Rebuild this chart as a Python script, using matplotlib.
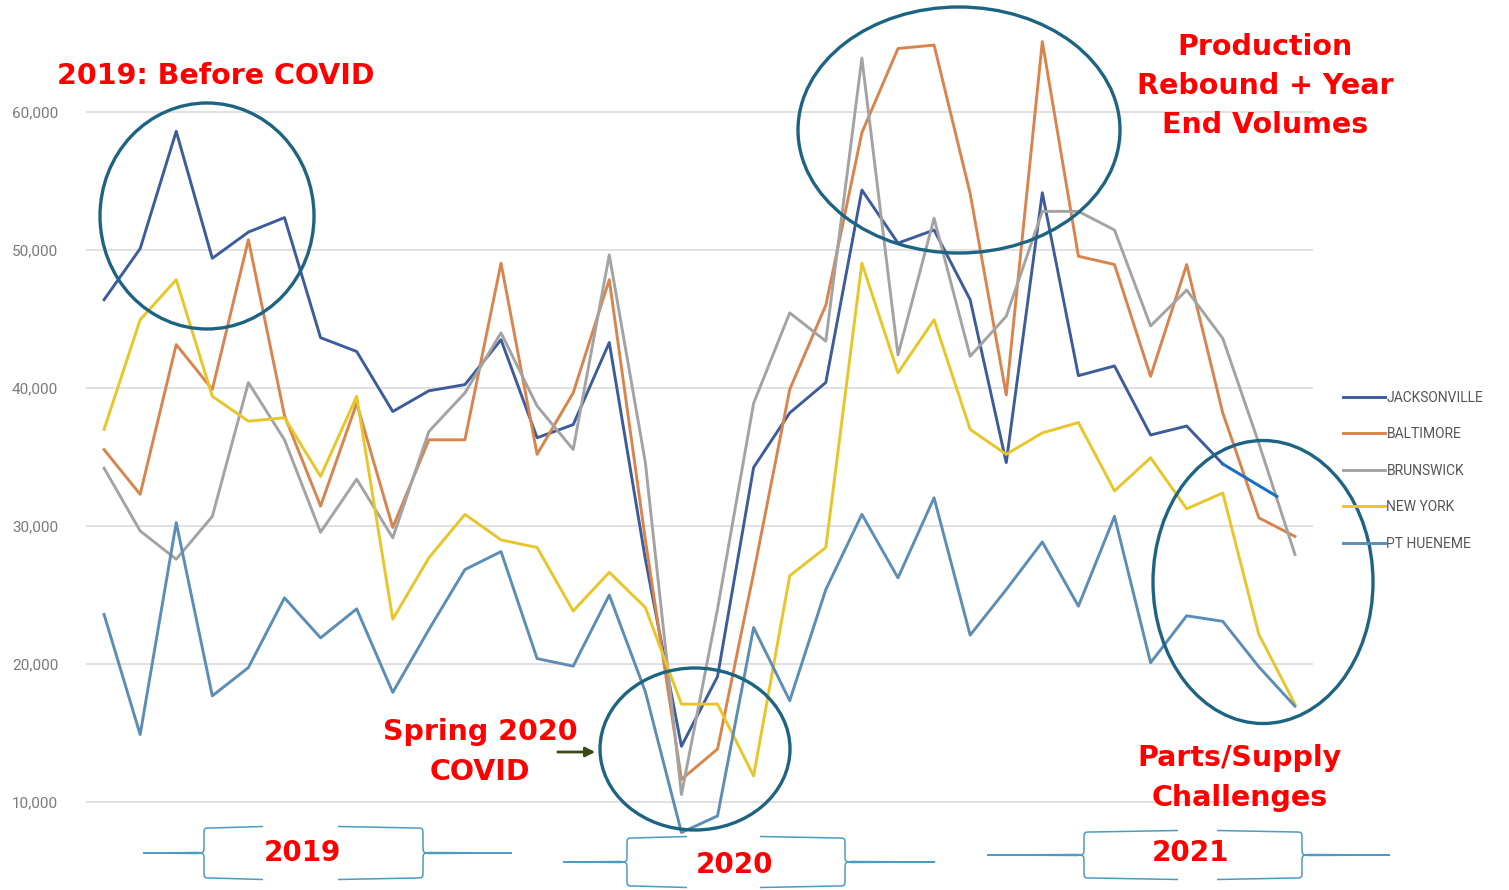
import matplotlib
matplotlib.use("Agg")
import matplotlib.pyplot as plt
from matplotlib.patches import Ellipse, PathPatch
from matplotlib.path import Path

# monthly volumes, Jan 2019 .. Oct 2021
jacksonville = [46400, 50100, 58600, 49400, 51300, 52350, 43650, 42650, 38300, 39800,
                40250, 43500, 36400, 37350, 43300, 27600, 14050, 19100, 34250, 38200,
                40400, 54350, 50500, 51450, 46400, 34600, 54150, 40900, 41600, 36600,
                37250, 34500]
baltimore = [35540, 32300, 43150, 39900, 50750, 38000, 31450, 38900, 29900, 36250,
             36250, 49050, 35200, 39650, 47850, 29000, 11650, 13850, 26600, 39900,
             46000, 58500, 64600, 64850, 54100, 39500, 65100, 49550, 48950, 40850,
             48950, 38200, 30600, 29250]
brunswick = [34200, 29650, 27600, 30700, 40400, 36250, 29550, 33400, 29150, 36850,
             39650, 44000, 38700, 35550, 49650, 34600, 10550, 24000, 38900, 45450,
             43400, 63900, 42400, 52300, 42300, 45200, 52800, 52800, 51450, 44500,
             47100, 43600, 36000, 27950]
new_york = [37000, 44950, 47850, 39400, 37600, 37850, 33600, 39400, 23250, 27700,
            30850, 29000, 28450, 23850, 26650, 24100, 17100, 17100, 11900, 26400,
            28450, 49050, 41100, 44950, 37000, 35200, 36750, 37500, 32550, 34950,
            31250, 32400, 22150, 17100]
pt_hueneme = [23600, 14900, 30250, 17700, 19750, 24800, 21900, 24000, 17950, 22500,
              26850, 28150, 20400, 19850, 25000, 18000, 7800, 9000, 22650, 17350,
              25400, 30850, 26250, 32050, 22100, 25400, 28850, 24200, 30700, 20100,
              23500, 23100, 19800, 16950]
# hand drawn continuation of the Jacksonville line
jax_ext_x = [31, 32.5]
jax_ext_y = [34500, 32150]

series = [("JACKSONVILLE", jacksonville, "#3d5c9c"),
          ("BALTIMORE", baltimore, "#d9844c"),
          ("BRUNSWICK", brunswick, "#a3a3a3"),
          ("NEW YORK", new_york, "#e8c62a"),
          ("PT HUENEME", pt_hueneme, "#5c8db5")]
yticks = [10000, 20000, 30000, 40000, 50000, 60000]
years = ["2019", "2020", "2021"]

fig = plt.figure(figsize=(15.09, 8.90), dpi=100)
ax = fig.add_axes([0.057, 0.0522, 0.8131, 0.915])
ax.set_xlim(-0.5, 33.5)
ax.set_ylim(7000, 66000)
ax.set_yticks(yticks)
ax.set_yticklabels([f"{v:,}" for v in yticks], color="#7a7a7a",
                   family=["Roboto", "DejaVu Sans"], fontsize=11)
ax.set_xticks([])
ax.tick_params(axis="y", length=0, pad=20)
for s in ax.spines.values():
    s.set_visible(False)
ax.grid(axis="y", color="#dcdcdc", lw=1.2)
ax.set_axisbelow(True)

for name, vals, col in series:
    ax.plot(range(len(vals)), vals, color=col, lw=2.1, label=name)
ax.plot(jax_ext_x, jax_ext_y, color="#1b6fc2", lw=2.2)

leg = fig.legend(loc="upper left", bbox_to_anchor=(0.882, 0.575), frameon=False,
                 handlelength=3.0, handletextpad=0.1, labelspacing=1.62,
                 prop={"family": ["Roboto", "DejaVu Sans"], "size": 10})
for t in leg.get_texts():
    t.set_color("#555555")

# overlay in pixel coordinates for the annotations
ov = fig.add_axes([0, 0, 1, 1], zorder=5)
ov.set_xlim(0, 1509)
ov.set_ylim(890, 0)
ov.axis("off")
ov.patch.set_alpha(0)

ring = "#1d6482"
for cx, cy, w, h in [(207, 216, 214, 226), (959, 130, 322, 246),
                     (695, 749, 190, 162), (1263, 582, 220, 283)]:
    ov.add_patch(Ellipse((cx, cy), w, h, fill=False, ec=ring, lw=2.4))

red = "#ff0000"
tkw = dict(color=red, fontweight="bold", family=["DejaVu Sans"],
           ha="center", va="center", linespacing=1.5)
ov.text(216, 76, "2019: Before COVID", fontsize=20.5, **tkw)
ov.text(1265, 86, "Production\nRebound + Year\nEnd Volumes", fontsize=20.5, **tkw)
ov.text(480, 752, "Spring 2020\nCOVID", fontsize=20.5, **tkw)
ov.text(1240, 778, "Parts/Supply\nChallenges", fontsize=20.5, **tkw)
ov.annotate("", xy=(598, 752), xytext=(555, 752),
            arrowprops=dict(arrowstyle="-|>", color="#3b4a12", lw=2, mutation_scale=14))


def brace(x0, x1, x2, x3, yc, hh, gl, gr):
    # curly bracket pair with long tails, drawn in pixel space
    r = 7
    M, L, C = Path.MOVETO, Path.LINETO, Path.CURVE4
    verts, codes = [], []
    for xa, xv, xg, sgn in [(x0, x1, gl, 1), (x3, x2, gr, -1)]:
        for d in (-1, 1):
            verts += [(xa, yc), (xv - sgn * r, yc - d * 0.5),
                      (xv, yc), (xv, yc + d * 1), (xv, yc + d * r),
                      (xv, yc + d * (hh - r)),
                      (xv, yc + d * hh), (xv, yc + d * hh), (xv + sgn * r, yc + d * hh),
                      (xg, yc + d * (hh + 1.5))]
            codes += [M, L, C, C, C, L, C, C, C, L]
    ov.add_patch(PathPatch(Path(verts, codes), fill=False, ec="#4b9cc2", lw=1.1))


brace(143, 204, 423, 512, 853, 25, 263, 338)
brace(563, 627, 845, 935, 862, 24, 687, 760)
brace(987, 1084, 1302, 1390, 855, 23, 1178, 1217)
for (x, y), yr in zip([(302, 853), (735, 865), (1190, 853)], years):
    ov.text(x, y, yr, fontsize=20, **tkw)

fig.savefig("out.png", dpi=100)
